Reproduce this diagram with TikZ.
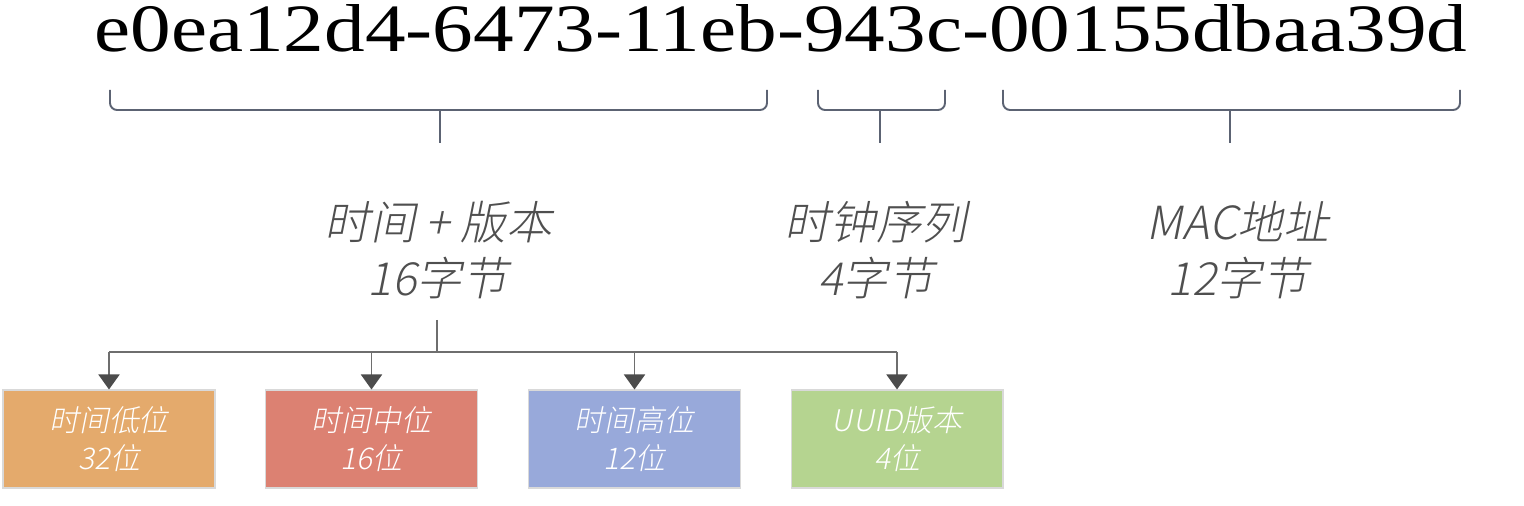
\documentclass[tikz,border=0pt]{standalone}
\usepackage{fontspec}
\setmainfont{Liberation Serif}
\newfontfamily\cjk[FakeSlant=0.2]{Noto Sans CJK SC Light}
\usetikzlibrary{arrows.meta}
\definecolor{bracegray}{HTML}{5C6373}
\definecolor{treegray}{HTML}{6E6E6E}
\definecolor{labelgray}{HTML}{4F4F4F}
\definecolor{lowfill}{HTML}{E4AA6C}
\definecolor{midfill}{HTML}{DC8172}
\definecolor{highfill}{HTML}{98A9DA}
\definecolor{verfill}{HTML}{B5D490}
\tikzset{>/.tip={Triangle[width=0.42cm,length=0.3cm,color=black!70]},
  bracket/.style={draw=bracegray, line width=1.1pt, rounded corners=4pt},
  part/.style={align=center, text=labelgray, font=\cjk\fontsize{26}{32}\selectfont},
  field/.style={draw=black!15, line width=0.6pt, minimum width=4.24cm, minimum height=1.96cm,
    align=center, text=white, font=\cjk\fontsize{17}{22}\selectfont}}

\begin{document}
\begin{tikzpicture}[x=0.02cm, y=-0.02cm]
\useasboundingbox (0,0) rectangle (1524,506);
\node[anchor=base, inner sep=0] (uuid) at (781,52)
  {\resizebox{27.46cm}{0.94cm}{e0ea12d4-6473-11eb-943c-00155dbaa39d}};
% braces under the fields
\draw[bracket] (110,90) -- (110,110) -- (767,110) -- (767,90);
\draw[bracket] (440,110) -- (440,143);
\draw[bracket] (818,90) -- (818,110) -- (945,110) -- (945,90);
\draw[bracket] (880,110) -- (880,143);
\draw[bracket] (1003,90) -- (1003,110) -- (1460,110) -- (1460,90);
\draw[bracket] (1230,110) -- (1230,143);
\node[part] (time) at (438,250) {时间 + 版本\\16字节};
\node[part] (clock) at (876,250) {时钟序列\\4字节};
\node[part] (mac) at (1238,250) {MAC地址\\12字节};
\node[field, fill=lowfill]  (lo)  at (109,439)   {时间低位\\32位};
\node[field, fill=midfill]  (mid) at (371.5,439) {时间中位\\16位};
\node[field, fill=highfill] (hi)  at (634.5,439) {时间高位\\12位};
\node[field, fill=verfill]  (ver) at (897,439)   {UUID版本\\4位};
\coordinate (stem) at (437,320);
\coordinate (split) at (437,352);
\draw[treegray, line width=1.1pt] (stem) -- (split);
\draw[treegray, line width=1.1pt] (split -| lo) -- (split -| ver);
\foreach \b in {lo,mid,hi,ver}
{
  \draw[->, treegray, line width=1.1pt] (split -| \b) -- (\b.north);
}
\end{tikzpicture}
\end{document}
